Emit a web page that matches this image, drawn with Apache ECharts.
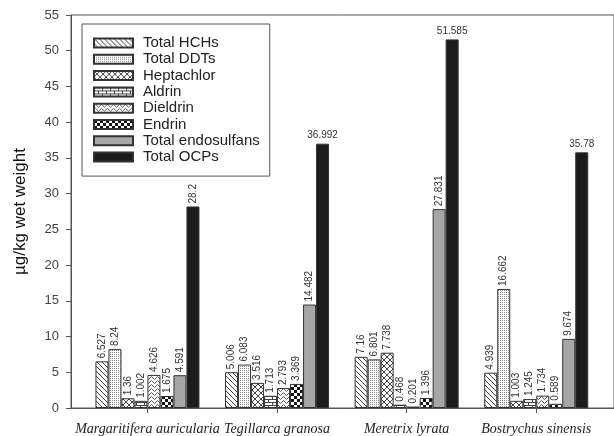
<!DOCTYPE html>
<html>
<head>
<meta charset="utf-8">
<script src="https://cdn.jsdelivr.net/npm/echarts@6/dist/echarts.min.js"></script>
<style>
html,body{margin:0;padding:0;background:#fff;}
#c{width:614px;height:436px;}
</style>
</head>
<body>
<div id="c"></div>
<script>
// ---- data ----
const categories = ['Margaritifera auricularia', 'Tegillarca granosa', 'Meretrix lyrata', 'Bostrychus sinensis'];
const seriesNames = ['Total HCHs', 'Total DDTs', 'Heptachlor', 'Aldrin', 'Dieldrin', 'Endrin', 'Total endosulfans', 'Total OCPs'];
const totalHCHs = [6.527, 5.006, 7.16, 4.939];
const totalDDTs = [8.24, 6.083, 6.801, 16.662];
const heptachlor = [1.36, 3.516, 7.738, 1.003];
const aldrin = [1.002, 1.713, 0.468, 1.245];
const dieldrin = [4.626, 2.793, 0.201, 1.734];
const endrin = [1.675, 3.369, 1.396, 0.589];
const totalEndosulfans = [4.591, 14.482, 27.831, 9.674];
const totalOCPs = [28.2, 36.992, 51.585, 35.78];
const yTicks = [0, 5, 10, 15, 20, 25, 30, 35, 40, 45, 50, 55];

const seriesValues = [totalHCHs, totalDDTs, heptachlor, aldrin, dieldrin, endrin, totalEndosulfans, totalOCPs];

// ---- patterns ----
function makePattern(w, h, draw) {
  const c = document.createElement('canvas');
  c.width = w; c.height = h;
  const ctx = c.getContext('2d');
  ctx.fillStyle = '#fff';
  ctx.fillRect(0, 0, w, h);
  draw(ctx, w, h);
  return { image: c, repeat: 'repeat' };
}
const ink = '#444';
const patHCH = makePattern(5, 5, (ctx) => {
  ctx.strokeStyle = ink; ctx.lineWidth = 1;
  ctx.beginPath();
  for (let k = -2; k <= 2; k++) { ctx.moveTo(k * 5, 0); ctx.lineTo(k * 5 + 5, 5); }
  ctx.stroke();
});
const patDDT = makePattern(2, 2, (ctx) => {
  ctx.fillStyle = '#8a8a8a';
  ctx.fillRect(0, 0, 1, 1);
});
const patHept = makePattern(6, 6, (ctx) => {
  ctx.strokeStyle = ink; ctx.lineWidth = 1;
  ctx.beginPath();
  for (let k = -2; k <= 2; k++) {
    ctx.moveTo(k * 6, 0); ctx.lineTo(k * 6 + 6, 6);
    ctx.moveTo(k * 6 + 6, 0); ctx.lineTo(k * 6, 6);
  }
  ctx.stroke();
});
const patAldrin = makePattern(8, 6, (ctx) => {
  ctx.fillStyle = ink;
  ctx.fillRect(0, 0, 8, 1);
  ctx.fillRect(0, 3, 8, 1);
  ctx.fillRect(0, 0, 1, 3);
  ctx.fillRect(4, 3, 1, 3);
});
const patDieldrin = makePattern(6, 4, (ctx) => {
  ctx.strokeStyle = ink; ctx.lineWidth = 0.9;
  ctx.beginPath();
  ctx.moveTo(0, 2); ctx.lineTo(1.5, 0.5); ctx.lineTo(4.5, 3.5); ctx.lineTo(6, 2);
  ctx.stroke();
});
const patEndrin = makePattern(6, 6, (ctx) => {
  ctx.fillStyle = '#111';
  ctx.fillRect(0, 0, 3, 3);
  ctx.fillRect(3, 3, 3, 3);
});
const fills = [patHCH, patDDT, patHept, patAldrin, patDieldrin, patEndrin, '#a6a6a6', '#1c1c1c'];

const series = seriesNames.map((name, si) => ({
  name: name,
  type: 'bar',
  barWidth: 13,
  barGap: '0%',
  data: seriesValues[si].map((v, ci) => [ci, v]),
  itemStyle: { color: fills[si], borderColor: '#333', borderWidth: 1 },
  label: {
    show: true,
    position: 'top',
    distance: 3,
    fontFamily: 'Liberation Sans, Arial, sans-serif',
    fontSize: 10,
    color: '#333',
    formatter: p => String(p.value[1])
  }
}));
series.forEach((s, si) => {
  if (si < 7) {
    s.label.rotate = 90;
    s.label.align = 'left';
    s.label.verticalAlign = 'middle';
  } else {
    s.data = s.data.map((d, ci) => ci === 0 ? {
      value: d,
      label: { rotate: 90, align: 'left', verticalAlign: 'middle' }
    } : d);
  }
});

const chart = echarts.init(document.getElementById('c'), null, { renderer: 'canvas' });
chart.setOption({
  animation: false,
  backgroundColor: '#fff',
  grid: {
    left: 71, right: -1, top: 15, bottom: 25,
    show: true, borderColor: '#555', borderWidth: 1
  },
  legend: {
    orient: 'vertical',
    left: 82, top: 24,
    padding: [11, 10, 11, 11],
    borderColor: '#555', borderWidth: 1,
    backgroundColor: '#fff',
    icon: 'rect',
    itemWidth: 39, itemHeight: 9, itemGap: 0.3,
    textStyle: {
      fontFamily: 'Liberation Sans, Arial, sans-serif',
      fontSize: 15, color: '#222', lineHeight: 16,
      padding: [0, 0, 0, 5]
    },
    data: seriesNames
  },
  xAxis: {
    type: 'value',
    min: -0.59, max: 3.6,
    splitLine: { show: false },
    axisLine: { show: true, onZero: false, lineStyle: { color: '#555', width: 1 } },
    axisTick: { show: true, length: 5, customValues: [0, 1, 2, 3], lineStyle: { color: '#555' } },
    axisLabel: {
      customValues: [0, 1, 2, 3],
      formatter: v => categories[Math.round(v)],
      fontFamily: 'Liberation Serif, Times New Roman, serif',
      fontStyle: 'italic',
      fontSize: 14,
      color: '#222',
      margin: 14
    }
  },
  yAxis: {
    type: 'value',
    min: 0, max: 55, interval: 5,
    name: 'µg/kg wet weight',
    nameLocation: 'middle',
    nameGap: 42,
    nameTextStyle: { fontFamily: 'Liberation Sans, Arial, sans-serif', fontSize: 17, color: '#111' },
    splitLine: { show: false },
    axisLine: { show: true, onZero: false, lineStyle: { color: '#555', width: 1 } },
    axisTick: { show: true, length: 5, lineStyle: { color: '#555' } },
    axisLabel: {
      fontFamily: 'Liberation Sans, Arial, sans-serif',
      fontSize: 13, color: '#444', margin: 12,
      customValues: yTicks
    }
  },
  series: series
});
</script>
</body>
</html>
